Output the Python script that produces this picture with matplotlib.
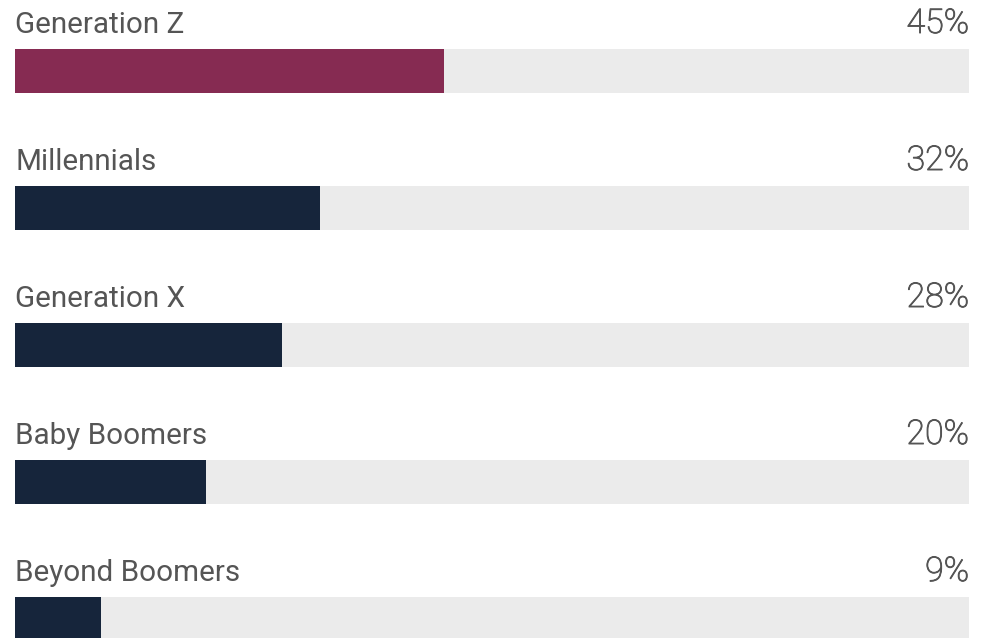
import matplotlib
matplotlib.use('Agg')
import matplotlib.pyplot as plt
import matplotlib.patheffects as pe

# data
generations = ['Generation Z', 'Millennials', 'Generation X', 'Baby Boomers', 'Beyond Boomers']
shares = [45, 32, 28, 20, 9]
bar_colors = ['#862B52', '#16253B', '#16253B', '#16253B', '#16253B']

W, H = 986, 638
row_px = 137.0
bar_px = 44.0
first_center_px = 71.0
text_color = '#555555'

fig = plt.figure(figsize=(W / 100, H / 100), dpi=100)
ax = fig.add_axes([15 / W, 0, 954 / W, 1])
ax.set_xlim(0, 100)
ax.set_ylim((H - first_center_px) / row_px, -first_center_px / row_px)
ax.axis('off')

h = bar_px / row_px
gap = 16 / row_px
ypos = range(len(generations))

ax.barh(ypos, [100] * len(shares), height=h, color='#EBEBEB', zorder=1)
ax.barh(ypos, shares, height=h, color=bar_colors, zorder=2)

for i, (name, val) in enumerate(zip(generations, shares)):
    ax.text(0, i - h / 2 - gap, name, ha='left', va='baseline',
            fontsize=21.3, family='Roboto', color=text_color, clip_on=False)
    ax.text(100, i - h / 2 - gap, f'{val}%', ha='right', va='baseline',
            fontsize=24.5, family='Roboto', fontweight='light',
            color=text_color, clip_on=False,
            path_effects=[pe.withStroke(linewidth=0.7, foreground=text_color)])

fig.savefig('out.png', dpi=100)
